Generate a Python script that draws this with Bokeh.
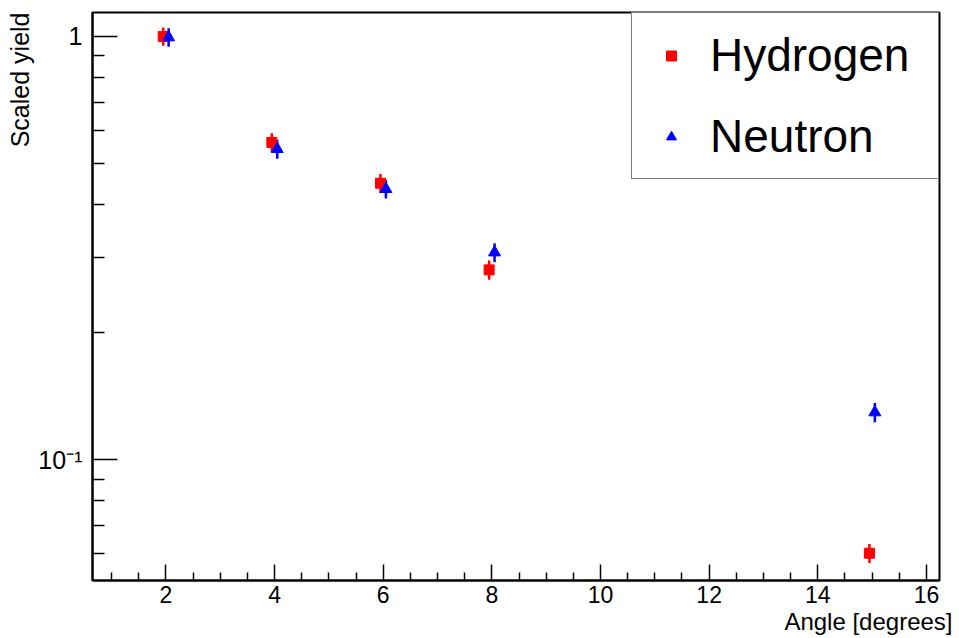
import numpy as np
from bokeh.plotting import figure
from bokeh.models import Range1d, FixedTicker, Legend, LegendItem, Title, CustomJSTickFormatter
from bokeh.embed import file_html
from bokeh.resources import INLINE

# ---- data ----
hydrogen_x = [1.95, 3.95, 5.95, 7.95, 14.95]
hydrogen_y = [1.0, 0.562, 0.450, 0.281, 0.0602]
hydrogen_err = [0.050, 0.029, 0.023, 0.0147, 0.0031]

neutron_x = [2.05, 4.05, 6.05, 8.05, 15.05]
neutron_y = [0.995, 0.542, 0.436, 0.309, 0.1295]
neutron_err = [0.050, 0.028, 0.022, 0.016, 0.0068]

x_major_ticks = [2, 4, 6, 8, 10, 12, 14, 16]
x_minor_ticks = [1.0, 1.5, 2.5, 3.0, 3.5, 4.5, 5.0, 5.5, 6.5, 7.0, 7.5, 8.5, 9.0, 9.5,
                 10.5, 11.0, 11.5, 12.5, 13.0, 13.5, 14.5, 15.0, 15.5]
y_major_ticks = [0.1, 1.0]
y_major_labels = ["10\u207b\u00b9", "1"]
y_minor_ticks = [0.06, 0.07, 0.08, 0.09, 0.2, 0.3, 0.4, 0.5, 0.6, 0.7, 0.8, 0.9]

x_start, x_end = 0.649, 16.24
y_start, y_end = 0.0519, 1.139

FONT = "Liberation Sans"

p = figure(width=959, height=638, y_axis_type="log",
           x_range=Range1d(x_start, x_end), y_range=Range1d(y_start, y_end),
           output_backend="svg", toolbar_location=None,
           min_border_left=92, min_border_right=20, min_border_top=12, min_border_bottom=58)
p.background_fill_color = "white"
p.border_fill_color = "white"
p.outline_line_color = "black"
p.outline_line_width = 2
p.xgrid.visible = False
p.ygrid.visible = False

# x axis
xa = p.xaxis[0]
xa.ticker = FixedTicker(ticks=x_major_ticks, minor_ticks=x_minor_ticks)
xa.major_tick_in = 16
xa.major_tick_out = 0
xa.minor_tick_in = 8
xa.minor_tick_out = 0
xa.axis_line_width = 2
xa.major_tick_line_width = 1.5
xa.minor_tick_line_width = 1.5
xa.major_label_text_font = FONT
xa.major_label_text_font_size = "23px"
xa.major_label_text_color = "black"
xa.major_label_standoff = 5

# y axis
ya = p.yaxis[0]
ya.ticker = FixedTicker(ticks=y_major_ticks, minor_ticks=y_minor_ticks)
ya.formatter = CustomJSTickFormatter(
    args=dict(vals=y_major_ticks, labs=y_major_labels),
    code="""
    for (let i = 0; i < vals.length; i++) {
        if (Math.abs(Math.log10(tick / vals[i])) < 0.01) { return labs[i]; }
    }
    return "";
    """)
ya.major_tick_in = 25
ya.major_tick_out = 0
ya.minor_tick_in = 12
ya.minor_tick_out = 0
ya.axis_line_width = 2
ya.major_tick_line_width = 1.5
ya.minor_tick_line_width = 1.5
ya.major_label_text_font = FONT
ya.major_label_text_font_size = "25px"
ya.major_label_text_color = "black"
ya.major_label_standoff = 10

# error bars
hx = np.array(hydrogen_x); hy = np.array(hydrogen_y); he = np.array(hydrogen_err)
nx = np.array(neutron_x); ny = np.array(neutron_y); ne = np.array(neutron_err)
p.segment(x0=hx, y0=hy - he, x1=hx, y1=hy + he, line_color="red", line_width=2.5)
p.segment(x0=nx, y0=ny - ne, x1=nx, y1=ny + ne, line_color="blue", line_width=2.5)

# markers
rh = p.scatter(x=hx, y=hy, marker="square", size=10, fill_color="red", line_color="red")
rn = p.scatter(x=nx, y=ny, marker="triangle", size=12, fill_color="blue", line_color="blue")

# legend
legend = Legend(items=[LegendItem(label="Hydrogen", renderers=[rh]),
                       LegendItem(label="Neutron", renderers=[rn])],
                location="top_right", margin=0, padding=15, spacing=27,
                glyph_width=48, glyph_height=25, label_height=53, label_width=213,
                label_standoff=15, label_text_font=FONT, label_text_font_size="46px",
                label_text_color="black",
                border_line_color="black", border_line_width=1.5,
                background_fill_color="white", background_fill_alpha=1.0)
p.add_layout(legend)

# axis titles (ROOT style: right / top aligned)
xtitle = Title(text="Angle [degrees]", align="right", offset=-13, standoff=0,
               text_font=FONT, text_font_size="24px", text_font_style="normal",
               text_color="black")
p.add_layout(xtitle, "below")
ytitle = Title(text="Scaled yield", align="right", offset=0, standoff=4,
               text_font=FONT, text_font_size="25px", text_font_style="normal",
               text_color="black")
p.add_layout(ytitle, "left")

open("out.html", "w").write(file_html(p, INLINE))
